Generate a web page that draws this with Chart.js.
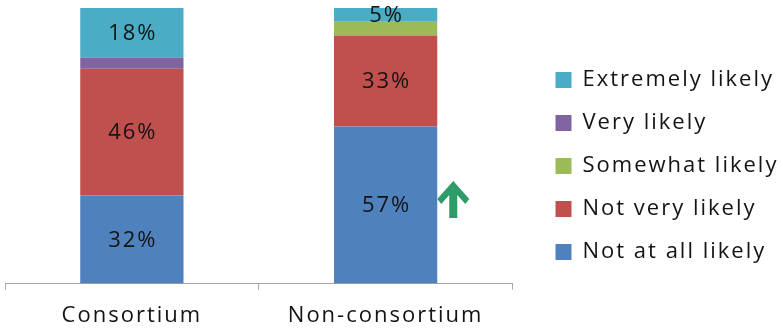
<!DOCTYPE html>
<html>
<head>
<meta charset="utf-8">
<script src="https://cdn.jsdelivr.net/npm/chart.js@4/dist/chart.umd.min.js"></script>
<style>
  html, body { margin: 0; padding: 0; background: #fff; }
  #wrap { width: 783px; height: 330px; position: relative; }
</style>
</head>
<body>
<div id="wrap"><canvas id="c"></canvas></div>
<script>
// Survey groups and response shares (percent)
const categories = ['Consortium', 'Non-consortium'];
const notAtAllLikely = [32, 57];
const notVeryLikely = [46, 33];
const somewhatLikely = [0, 5];
const veryLikely = [4, 0];
const extremelyLikely = [18, 5];

const FONT = 'Open Sans';
const FONT_SIZE = 22;
const SPACING = '2px';
const TEXT_COLOR = '#141414';

// Wide lettering for every piece of text on the canvas
const wideText = {
  id: 'wideText',
  beforeLayout(chart) { chart.ctx.letterSpacing = SPACING; },
  beforeDraw(chart) { chart.ctx.letterSpacing = SPACING; }
};

// Empty column between the plot area and the legend
const legendGap = {
  id: 'legendGap',
  beforeInit(chart) {
    Chart.layouts.addBox(chart, {
      position: 'right',
      weight: 500,
      fullSize: false,
      options: {},
      isHorizontal() { return false; },
      update(maxW, maxH) { this.width = 22; this.height = maxH; },
      draw() {}
    });
  },
  // let the legend run to the canvas edge and lift it a little
  afterLayout(chart) {
    const lg = chart.legend;
    if (lg) {
      lg.right = chart.width;
      lg.width = lg.right - lg.left;
      lg.top -= 9;
      lg.bottom -= 9;
    }
  }
};

// Writes the percentage inside the larger segments
const segmentLabels = {
  id: 'segmentLabels',
  afterDatasetsDraw(chart) {
    const ctx = chart.ctx;
    ctx.save();
    ctx.letterSpacing = SPACING;
    ctx.font = FONT_SIZE + 'px "' + FONT + '"';
    ctx.fillStyle = TEXT_COLOR;
    ctx.textAlign = 'center';
    ctx.textBaseline = 'middle';
    chart.data.datasets.forEach((ds, i) => {
      if (!ds.showLabels) return;
      const meta = chart.getDatasetMeta(i);
      meta.data.forEach((bar, j) => {
        const v = ds.data[j];
        if (!v) return;
        const p = bar.getProps(['x', 'y', 'base'], true);
        ctx.fillText(v + '%', p.x + 1, (p.y + p.base) / 2 + 1);
      });
    });
    ctx.restore();
  }
};

// Up arrow beside the Non-consortium bar
const upArrow = {
  id: 'upArrow',
  afterDatasetsDraw(chart) {
    const bar = chart.getDatasetMeta(0).data[1];
    if (!bar) return;
    const p = bar.getProps(['x', 'width'], true);
    const cx = p.x + p.width / 2 + 16;
    const top = 181;
    const ctx = chart.ctx;
    ctx.save();
    ctx.fillStyle = '#2e9c68';
    ctx.beginPath();
    ctx.moveTo(cx, top);
    ctx.lineTo(cx + 16, top + 18);
    ctx.lineTo(cx + 12, top + 23);
    ctx.lineTo(cx + 4, top + 14);
    ctx.lineTo(cx + 4, top + 37);
    ctx.lineTo(cx - 4, top + 37);
    ctx.lineTo(cx - 4, top + 14);
    ctx.lineTo(cx - 12, top + 23);
    ctx.lineTo(cx - 16, top + 18);
    ctx.closePath();
    ctx.fill();
    ctx.restore();
  }
};

new Chart(document.getElementById('c'), {
  type: 'bar',
  data: {
    labels: categories,
    datasets: [
      { label: 'Not at all likely', data: notAtAllLikely, backgroundColor: '#4f81bd', showLabels: true },
      { label: 'Not very likely', data: notVeryLikely, backgroundColor: '#c0504d', showLabels: true },
      { label: 'Somewhat likely', data: somewhatLikely, backgroundColor: '#9bbb59', showLabels: false },
      { label: 'Very likely', data: veryLikely, backgroundColor: '#8064a2', showLabels: false },
      { label: 'Extremely likely', data: extremelyLikely, backgroundColor: '#4bacc6', showLabels: true }
    ]
  },
  options: {
    responsive: true,
    maintainAspectRatio: false,
    animation: false,
    layout: { padding: { left: 5, top: 8, right: 72, bottom: -12 } },
    datasets: { bar: { barPercentage: 0.407, categoryPercentage: 1 } },
    plugins: {
      legend: {
        position: 'right',
        reverse: true,
        align: 'center',
        labels: {
          font: { family: FONT, size: FONT_SIZE },
          color: TEXT_COLOR,
          boxWidth: 16,
          boxHeight: 16,
          padding: 21
        }
      },
      tooltip: { enabled: false }
    },
    scales: {
      x: {
        stacked: true,
        grid: { offset: true, drawOnChartArea: false, tickLength: 6, color: '#a6a6a6' },
        border: { color: '#a6a6a6' },
        ticks: { font: { family: FONT, size: FONT_SIZE }, color: TEXT_COLOR, padding: 13 }
      },
      y: {
        stacked: true,
        display: false,
        min: 0,
        max: 100
      }
    }
  },
  plugins: [wideText, legendGap, segmentLabels, upArrow]
});
</script>
</body>
</html>
